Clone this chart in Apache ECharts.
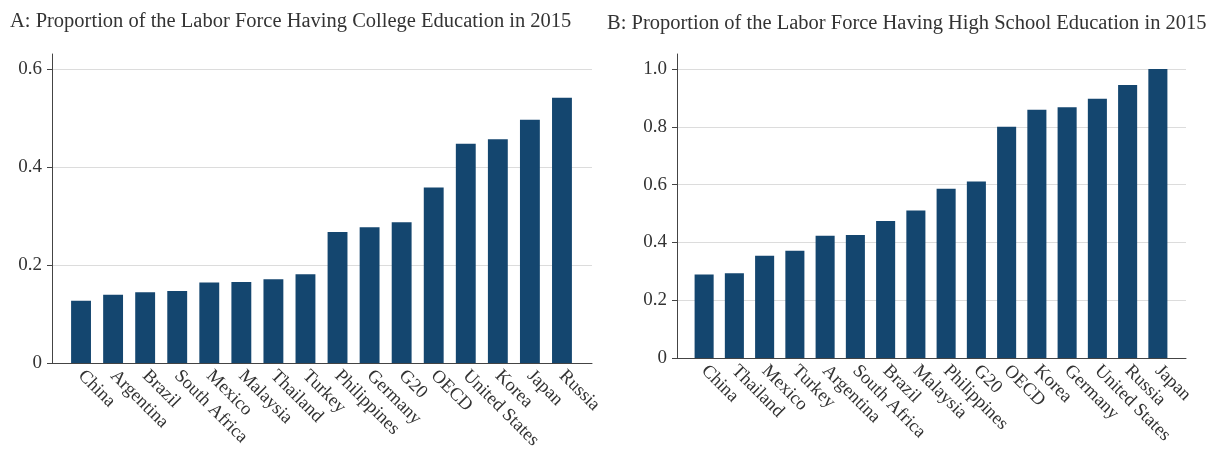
<!DOCTYPE html>
<html>
<head>
<meta charset="utf-8">
<script src="https://cdn.jsdelivr.net/npm/echarts@6/dist/echarts.min.js"></script>
<style>
  html, body { margin: 0; padding: 0; background: #fff; }
  #chart { width: 1209px; height: 452px; }
</style>
</head>
<body>
<div id="chart"></div>
<script>
// panel A: college education
const collegeCountries = ['China', 'Argentina', 'Brazil', 'South Africa', 'Mexico', 'Malaysia', 'Thailand', 'Turkey',
  'Philippines', 'Germany', 'G20', 'OECD', 'United States', 'Korea', 'Japan', 'Russia'];
const collegeShare = [0.127, 0.139, 0.144, 0.147, 0.164, 0.165, 0.171, 0.181,
  0.267, 0.277, 0.287, 0.358, 0.447, 0.456, 0.496, 0.541];
const collegeTicks = [0, 0.2, 0.4, 0.6];

// panel B: high school education
const schoolCountries = ['China', 'Thailand', 'Mexico', 'Turkey', 'Argentina', 'South Africa', 'Brazil', 'Malaysia',
  'Philippines', 'G20', 'OECD', 'Korea', 'Germany', 'United States', 'Russia', 'Japan'];
const schoolShare = [0.289, 0.293, 0.354, 0.371, 0.423, 0.426, 0.474, 0.51,
  0.586, 0.611, 0.80, 0.859, 0.868, 0.897, 0.945, 1.0];
const schoolTicks = [0, 0.2, 0.4, 0.6, 0.8, 1.0];

const serif = 'Liberation Serif';
const textColor = '#333';
const axisColor = '#444';
const barColor = '#14466f';

const chart = echarts.init(document.getElementById('chart'));

const tickFmt = v => (v === 0 ? '0' : v.toFixed(1));

// frame axis: ticks, labels and grid lines
function frameY(gridIndex, ticks) {
  return {
    gridIndex: gridIndex,
    type: 'value',
    min: ticks[0],
    max: ticks[ticks.length - 1],
    interval: ticks[1] - ticks[0],
    axisLine: { show: false },
    axisTick: { show: true, length: 5, lineStyle: { color: axisColor } },
    axisLabel: { formatter: tickFmt, fontFamily: serif, fontSize: 19, color: textColor, margin: 10 },
    splitLine: { show: true, lineStyle: { color: '#dcdcdc', width: 1 } }
  };
}

// bar axis: only the vertical line, a bit taller than the grid lines
function barY(gridIndex, max, offset) {
  return {
    gridIndex: gridIndex,
    type: 'value',
    min: 0,
    max: max,
    offset: offset,
    axisLine: { show: true, lineStyle: { color: axisColor, width: 1 } },
    axisTick: { show: false },
    axisLabel: { show: false },
    splitLine: { show: false }
  };
}

function frameX(gridIndex) {
  return {
    gridIndex: gridIndex,
    type: 'value',
    min: 0,
    max: 1,
    axisLine: { show: true, lineStyle: { color: axisColor, width: 1 } },
    axisTick: { show: false },
    axisLabel: { show: false },
    splitLine: { show: false }
  };
}

function barX(gridIndex, cats) {
  return {
    gridIndex: gridIndex,
    type: 'category',
    data: cats,
    axisLine: { show: false },
    axisTick: { show: false },
    axisLabel: { rotate: -45, interval: 0, fontFamily: serif, fontSize: 18.5, color: textColor, margin: 10 }
  };
}

const titleStyle = { fontFamily: serif, fontSize: 20.5, fontWeight: 'normal', color: textColor };

chart.setOption({
  animation: false,
  title: [
    { text: 'A: Proportion of the Labor Force Having College Education in 2015', left: 5, top: 6, textStyle: titleStyle },
    { text: 'B: Proportion of the Labor Force Having High School Education in 2015', left: 602, top: 8, textStyle: titleStyle }
  ],
  grid: [
    { left: 52, top: 69, width: 540, height: 294 },
    { left: 65, top: 54, width: 513, height: 309 },
    { left: 677, top: 69, width: 509, height: 289 },
    { left: 689, top: 54, width: 484, height: 304 }
  ],
  xAxis: [
    frameX(0),
    barX(1, collegeCountries),
    frameX(2),
    barX(3, schoolCountries)
  ],
  yAxis: [
    frameY(0, collegeTicks),
    barY(1, 0.63, 13),
    frameY(2, schoolTicks),
    barY(3, 1.052, 12)
  ],
  series: [
    {
      type: 'bar',
      xAxisIndex: 1,
      yAxisIndex: 1,
      data: collegeShare,
      barWidth: '62%',
      itemStyle: { color: barColor }
    },
    {
      type: 'bar',
      xAxisIndex: 3,
      yAxisIndex: 3,
      data: schoolShare,
      barWidth: '63%',
      itemStyle: { color: barColor }
    }
  ]
});
</script>
</body>
</html>
